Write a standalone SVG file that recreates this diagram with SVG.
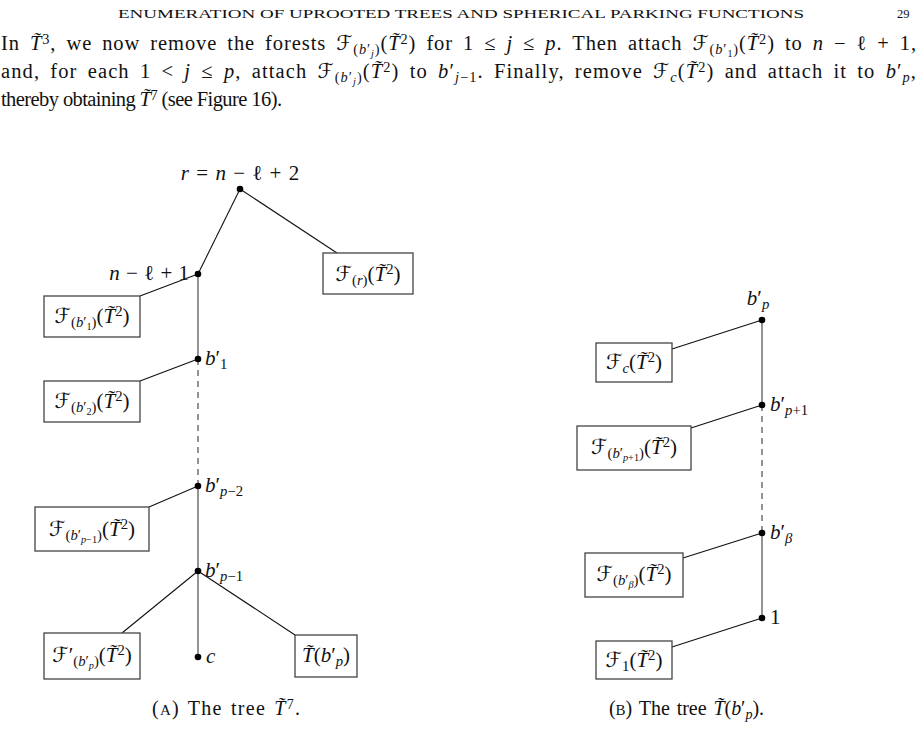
<svg xmlns="http://www.w3.org/2000/svg" width="918" height="749" viewBox="0 0 918 749">
<style>
.t{font-family:"Liberation Serif","DejaVu Serif",serif;fill:#111}
.hd{font-size:12.5px}
.p{font-size:20.5px}
.ws{word-spacing:4px}
.l{font-size:21px}
.cap{font-size:20px;word-spacing:2px}
.it{font-style:italic}
.cal{font-family:"DejaVu Sans","Noto Sans",serif;font-style:normal}
.sub{font-size:70%;baseline-shift:-0.28em}
.sup{font-size:70%;baseline-shift:0.45em}
.box{fill:#fff;stroke:#444;stroke-width:1.3}
.e{stroke:#111;stroke-width:1.1;fill:none}
.v{stroke:#666;stroke-width:1.4;fill:none}
.d{stroke:#666;stroke-width:1.4;fill:none;stroke-dasharray:6 5}
.dot{fill:#000}
</style>
<rect width="918" height="749" fill="#fff"/>
<g id="header">
<text class="t hd" x="118" y="18" textLength="686" lengthAdjust="spacingAndGlyphs">ENUMERATION OF UPROOTED TREES AND SPHERICAL PARKING FUNCTIONS</text>
<text class="t hd" x="897" y="18" font-size="13">29</text>
</g>
<g id="paragraph">
<text class="t p ws" x="1" y="50" textLength="915" lengthAdjust="spacing">In <tspan class="it">T̃</tspan><tspan class="sup">3</tspan>, we now remove the forests <tspan class="cal">ℱ</tspan><tspan class="sub">(<tspan class="it">b</tspan>′<tspan class="sub it">j</tspan>)</tspan>(<tspan class="it">T̃</tspan><tspan class="sup">2</tspan>) for 1 ≤ <tspan class="it">j</tspan> ≤ <tspan class="it">p</tspan>. Then attach <tspan class="cal">ℱ</tspan><tspan class="sub">(<tspan class="it">b</tspan>′<tspan class="sub">1</tspan>)</tspan>(<tspan class="it">T̃</tspan><tspan class="sup">2</tspan>) to <tspan class="it">n</tspan> − ℓ + 1,</text>
<text class="t p ws" x="1" y="78" textLength="915" lengthAdjust="spacing">and, for each 1 &lt; <tspan class="it">j</tspan> ≤ <tspan class="it">p</tspan>, attach <tspan class="cal">ℱ</tspan><tspan class="sub">(<tspan class="it">b</tspan>′<tspan class="sub it">j</tspan>)</tspan>(<tspan class="it">T̃</tspan><tspan class="sup">2</tspan>) to <tspan class="it">b</tspan>′<tspan class="sub"><tspan class="it">j</tspan>−1</tspan>. Finally, remove <tspan class="cal">ℱ</tspan><tspan class="sub it">c</tspan>(<tspan class="it">T̃</tspan><tspan class="sup">2</tspan>) and attach it to <tspan class="it">b</tspan>′<tspan class="sub it">p</tspan>,</text>
<text class="t p" x="1" y="106" textLength="281" lengthAdjust="spacing">thereby obtaining <tspan class="it">T̃</tspan><tspan class="sup">7</tspan> (see Figure 16).</text>
</g>
<g id="connectors">
<line class="e" x1="240" y1="189" x2="198" y2="274"/>
<line class="e" x1="240" y1="189" x2="337" y2="253"/>
<line class="e" x1="198" y1="274" x2="140" y2="296"/>
<line class="v" x1="198" y1="274" x2="198" y2="359"/>
<line class="e" x1="198" y1="359" x2="140" y2="381"/>
<line class="d" x1="198" y1="359" x2="198" y2="486"/>
<line class="e" x1="198" y1="486" x2="149" y2="507"/>
<line class="v" x1="198" y1="486" x2="198" y2="571"/>
<line class="e" x1="198" y1="571" x2="122" y2="633"/>
<line class="e" x1="198" y1="571" x2="295" y2="635"/>
<line class="v" x1="198" y1="571" x2="198" y2="657"/>
<line class="e" x1="762" y1="320" x2="672" y2="349"/>
<line class="v" x1="762" y1="320" x2="762" y2="405"/>
<line class="e" x1="762" y1="405" x2="691" y2="428"/>
<line class="d" x1="762" y1="405" x2="762" y2="533"/>
<line class="e" x1="762" y1="533" x2="683" y2="558"/>
<line class="v" x1="762" y1="533" x2="762" y2="618"/>
<line class="e" x1="762" y1="618" x2="672" y2="647"/>
</g>
<g id="node-r">
<circle class="dot" cx="240" cy="189" r="3.3"/>
<text class="t l" x="240" y="180" text-anchor="middle" word-spacing="2"><tspan class="it">r</tspan> = <tspan class="it">n</tspan> − ℓ + 2</text>
</g>
<g id="node-n1">
<circle class="dot" cx="198" cy="274" r="3.3"/>
<text class="t l" x="189" y="280" text-anchor="end" word-spacing="1"><tspan class="it">n</tspan> − ℓ + 1</text>
</g>
<g id="box-Fr">
<rect class="box" x="323" y="253" width="90" height="41"/>
<text class="t l" x="368" y="281" text-anchor="middle"><tspan class="cal">ℱ</tspan><tspan class="sub">(<tspan class="it">r</tspan>)</tspan>(<tspan class="it">T̃</tspan><tspan class="sup">2</tspan>)</text>
</g>
<g id="box-Fb1">
<rect class="box" x="44" y="296" width="96" height="41"/>
<text class="t l" x="92" y="323" text-anchor="middle"><tspan class="cal">ℱ</tspan><tspan class="sub">(<tspan class="it">b</tspan>′<tspan class="sub">1</tspan>)</tspan>(<tspan class="it">T̃</tspan><tspan class="sup">2</tspan>)</text>
</g>
<g id="node-b1">
<circle class="dot" cx="198" cy="359" r="3.3"/>
<text class="t l" x="205" y="365"><tspan class="it">b</tspan>′<tspan class="sub">1</tspan></text>
</g>
<g id="box-Fb2">
<rect class="box" x="44" y="381" width="96" height="41"/>
<text class="t l" x="92" y="408" text-anchor="middle"><tspan class="cal">ℱ</tspan><tspan class="sub">(<tspan class="it">b</tspan>′<tspan class="sub">2</tspan>)</tspan>(<tspan class="it">T̃</tspan><tspan class="sup">2</tspan>)</text>
</g>
<g id="node-bp2">
<circle class="dot" cx="198" cy="486" r="3.3"/>
<text class="t l" x="205" y="492"><tspan class="it">b</tspan>′<tspan class="sub"><tspan class="it">p</tspan>−2</tspan></text>
</g>
<g id="box-Fbp1">
<rect class="box" x="35" y="507" width="114" height="44"/>
<text class="t l" x="92" y="536" text-anchor="middle"><tspan class="cal">ℱ</tspan><tspan class="sub">(<tspan class="it">b</tspan>′<tspan class="sub"><tspan class="it">p</tspan>−1</tspan>)</tspan>(<tspan class="it">T̃</tspan><tspan class="sup">2</tspan>)</text>
</g>
<g id="node-bp1">
<circle class="dot" cx="198" cy="571" r="3.3"/>
<text class="t l" x="205" y="577"><tspan class="it">b</tspan>′<tspan class="sub"><tspan class="it">p</tspan>−1</tspan></text>
</g>
<g id="box-Fpbp">
<rect class="box" x="44" y="633" width="96" height="46"/>
<text class="t l" x="92" y="662" text-anchor="middle"><tspan class="cal">ℱ</tspan>′<tspan class="sub">(<tspan class="it">b</tspan>′<tspan class="sub it">p</tspan>)</tspan>(<tspan class="it">T̃</tspan><tspan class="sup">2</tspan>)</text>
</g>
<g id="node-c">
<circle class="dot" cx="198" cy="657" r="3.3"/>
<text class="t l it" x="206" y="663">c</text>
</g>
<g id="box-Tbp">
<rect class="box" x="295" y="635" width="62" height="42"/>
<text class="t l" x="326" y="662" text-anchor="middle"><tspan class="it">T̃</tspan>(<tspan class="it">b</tspan>′<tspan class="sub it">p</tspan>)</text>
</g>
<g id="node-bp">
<circle class="dot" cx="762" cy="320" r="3.3"/>
<text class="t l" x="758" y="305" text-anchor="middle"><tspan class="it">b</tspan>′<tspan class="sub it">p</tspan></text>
</g>
<g id="box-Fc">
<rect class="box" x="596" y="343" width="76" height="39"/>
<text class="t l" x="634" y="369" text-anchor="middle"><tspan class="cal">ℱ</tspan><tspan class="sub it">c</tspan>(<tspan class="it">T̃</tspan><tspan class="sup">2</tspan>)</text>
</g>
<g id="node-bpp1">
<circle class="dot" cx="762" cy="405" r="3.3"/>
<text class="t l" x="770" y="411"><tspan class="it">b</tspan>′<tspan class="sub"><tspan class="it">p</tspan>+1</tspan></text>
</g>
<g id="box-Fbpp1">
<rect class="box" x="577" y="426" width="114" height="44"/>
<text class="t l" x="634" y="454" text-anchor="middle"><tspan class="cal">ℱ</tspan><tspan class="sub">(<tspan class="it">b</tspan>′<tspan class="sub"><tspan class="it">p</tspan>+1</tspan>)</tspan>(<tspan class="it">T̃</tspan><tspan class="sup">2</tspan>)</text>
</g>
<g id="node-bbeta">
<circle class="dot" cx="762" cy="533" r="3.3"/>
<text class="t l" x="770" y="539"><tspan class="it">b</tspan>′<tspan class="sub it">β</tspan></text>
</g>
<g id="box-Fbbeta">
<rect class="box" x="585" y="553" width="98" height="44"/>
<text class="t l" x="634" y="581" text-anchor="middle"><tspan class="cal">ℱ</tspan><tspan class="sub">(<tspan class="it">b</tspan>′<tspan class="sub it">β</tspan>)</tspan>(<tspan class="it">T̃</tspan><tspan class="sup">2</tspan>)</text>
</g>
<g id="node-1">
<circle class="dot" cx="762" cy="618" r="3.3"/>
<text class="t l" x="770" y="624">1</text>
</g>
<g id="box-F1">
<rect class="box" x="596" y="641" width="76" height="38"/>
<text class="t l" x="634" y="667" text-anchor="middle"><tspan class="cal">ℱ</tspan><tspan class="sub">1</tspan>(<tspan class="it">T̃</tspan><tspan class="sup">2</tspan>)</text>
</g>
<g id="captions">
<text class="t cap" x="152" y="715" textLength="148" lengthAdjust="spacing">(<tspan font-size="15">A</tspan>) The tree <tspan class="it">T̃</tspan><tspan class="sup">7</tspan>.</text>
<text class="t cap" x="609" y="715" textLength="155" lengthAdjust="spacing">(<tspan font-size="15">B</tspan>) The tree <tspan class="it">T̃</tspan>(<tspan class="it">b</tspan>′<tspan class="sub it">p</tspan>).</text>
</g>
</svg>
